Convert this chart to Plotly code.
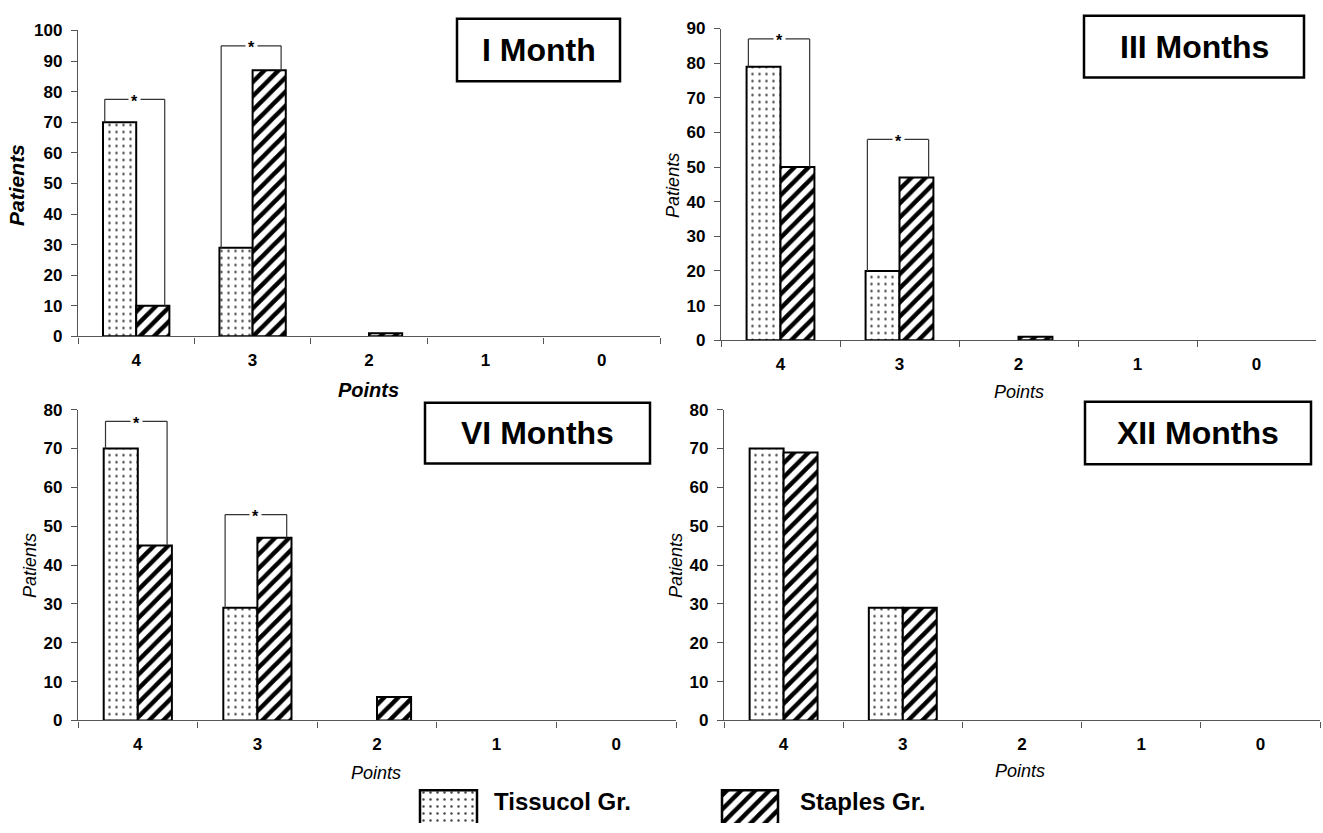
import plotly.graph_objects as go

# ---------------- data ----------------
points = ["4", "3", "2", "1", "0"]
panel_titles = ["I Month", "III Months", "VI Months", "XII Months"]

tissucol_1m = [70, 29, 0, 0, 0]
staples_1m = [10, 87, 1, 0, 0]
tissucol_3m = [79, 20, 0, 0, 0]
staples_3m = [50, 47, 1, 0, 0]
tissucol_6m = [70, 29, 0, 0, 0]
staples_6m = [45, 47, 6, 0, 0]
tissucol_12m = [70, 29, 0, 0, 0]
staples_12m = [69, 29, 0, 0, 0]

y_max = [100, 90, 80, 80]

# significance brackets: (panel index, category index, bracket height)
brackets = [(0, 0, 77.5), (0, 1, 95), (1, 0, 87), (1, 1, 58), (2, 0, 77), (2, 1, 53)]

legend_names = ["Tissucol Gr.", "Staples Gr."]

tissucol = [tissucol_1m, tissucol_3m, tissucol_6m, tissucol_12m]
staples = [staples_1m, staples_3m, staples_6m, staples_12m]

# ---------------- layout geometry (pixels) ----------------
W, H = 1323, 833
# (x_left, x_right, y_top, y_bottom) of each plot area
areas = [(78, 660, 22, 335), (721, 1316, 20, 339), (78, 676, 410, 728), (724, 1320, 410, 728)]
title_boxes = [(457, 620, 10, 74), (1084, 1304, 7, 70), (425, 650, 403, 465), (1085, 1311, 402, 466)]
pat_style = [
    dict(x=17, y=180, size=21, bold=True),
    dict(x=673, y=180, size=18, bold=False),
    dict(x=30, y=570, size=18, bold=False),
    dict(x=676, y=570, size=18, bold=False),
]
pts_style = [
    dict(x=368, y=390, size=20, bold=True),
    dict(x=1019, y=392, size=18, bold=False),
    dict(x=376, y=782, size=18, bold=False),
    dict(x=1020, y=780, size=18, bold=False),
]

FONT = "Liberation Sans, Arial, sans-serif"
DOTS = dict(shape=".", fgcolor="#444444", bgcolor="white", size=7, solidity=0.1, fgopacity=1)
HATCH = dict(shape="/", fgcolor="black", bgcolor="white", size=10, solidity=0.45, fgopacity=1)


def px(x):
    return x / W


def py(y):
    return 1 - y / H


def nz(vals):
    return [v if v else None for v in vals]


fig = go.Figure()
layout = dict(
    width=W, height=H,
    margin=dict(l=0, r=0, t=0, b=0),
    paper_bgcolor="white", plot_bgcolor="white",
    barmode="group", bargap=0.43, bargroupgap=0,
    showlegend=False,
    font=dict(family=FONT, color="black", size=16),
    shapes=[], annotations=[],
)

for i in range(4):
    sx = "" if i == 0 else str(i + 1)
    xa, ya = "x" + sx, "y" + sx
    x0, x1, y0, y1 = areas[i]
    fig.add_trace(go.Bar(
        x=points, y=nz(tissucol[i]), xaxis=xa, yaxis=ya, name=legend_names[0],
        marker=dict(color="white", line=dict(color="black", width=2), pattern=DOTS),
    ))
    fig.add_trace(go.Bar(
        x=points, y=nz(staples[i]), xaxis=xa, yaxis=ya, name=legend_names[1],
        marker=dict(color="white", line=dict(color="black", width=2), pattern=HATCH),
    ))
    layout["xaxis" + sx] = dict(
        domain=[px(x0), px(x1)], anchor=ya, type="category",
        categoryorder="array", categoryarray=points, range=[-0.5, 4.5],
        showline=True, linecolor="#555555", linewidth=1.3,
        ticks="outside", tickson="boundaries", ticklen=6, tickcolor="#555555",
        ticklabelstandoff=8,
        showgrid=False, zeroline=False, fixedrange=True,
        tickfont=dict(family=FONT, size=17, color="black", weight="bold"),
    )
    layout["yaxis" + sx] = dict(
        domain=[py(y1), py(y0)], anchor=xa, range=[0, y_max[i]], dtick=10,
        showline=True, linecolor="#555555", linewidth=1.3,
        ticks="outside", ticklen=6, tickcolor="#555555",
        ticklabelstandoff=5,
        showgrid=False, zeroline=False, fixedrange=True,
        tickfont=dict(family=FONT, size=17, color="black", weight="bold"),
    )
    bx0, bx1, by0, by1 = title_boxes[i]
    layout["shapes"].append(dict(type="rect", xref="paper", yref="paper",
                                 x0=px(bx0), x1=px(bx1), y0=py(by1), y1=py(by0),
                                 line=dict(color="black", width=2.5), fillcolor="white"))
    layout["annotations"].append(dict(text="<b>%s</b>" % panel_titles[i], xref="paper", yref="paper",
                                      x=px((bx0 + bx1) / 2), y=py((by0 + by1) / 2),
                                      xanchor="center", yanchor="middle", showarrow=False,
                                      font=dict(family=FONT, size=32, color="black")))
    ps = pat_style[i]
    t = "<i>Patients</i>"
    if ps["bold"]:
        t = "<b>" + t + "</b>"
    layout["annotations"].append(dict(text=t, xref="paper", yref="paper", x=px(ps["x"]), y=py(ps["y"]),
                                      xanchor="center", yanchor="middle", textangle=-90, showarrow=False,
                                      font=dict(family=FONT, size=ps["size"], color="black")))
    ts = pts_style[i]
    t = "<i>Points</i>"
    if ts["bold"]:
        t = "<b>" + t + "</b>"
    layout["annotations"].append(dict(text=t, xref="paper", yref="paper", x=px(ts["x"]), y=py(ts["y"]),
                                      xanchor="center", yanchor="middle", showarrow=False,
                                      font=dict(family=FONT, size=ts["size"], color="black")))

# significance brackets
for (p, c, top) in brackets:
    sx = "" if p == 0 else str(p + 1)
    xa, ya = "x" + sx, "y" + sx
    xl, xr = c - 0.27, c + 0.245
    lc = dict(color="#333333", width=1.2)
    layout["shapes"].append(dict(type="line", xref=xa, yref=ya, x0=xl, x1=xl, y0=tissucol[p][c], y1=top, line=lc))
    layout["shapes"].append(dict(type="line", xref=xa, yref=ya, x0=xl, x1=xr, y0=top, y1=top, line=lc))
    layout["shapes"].append(dict(type="line", xref=xa, yref=ya, x0=xr, x1=xr, y0=top, y1=staples[p][c], line=lc))
    layout["annotations"].append(dict(text="<b>*</b>", xref=xa, yref=ya, x=(xl + xr) / 2, y=top,
                                      xanchor="center", yanchor="middle", showarrow=False,
                                      bgcolor="white", borderpad=2, yshift=-2,
                                      font=dict(family=FONT, size=16, color="black")))

# custom legend (large patterned swatches on a hidden pixel-scale axis)
leg_x = [448.5, 750]
leg_w = [57, 56]
fig.add_trace(go.Bar(x=[leg_x[0]], y=[1.2], base=[-0.4], width=[leg_w[0]], xaxis="x5", yaxis="y5",
                     marker=dict(color="white", line=dict(color="black", width=2.5), pattern=DOTS)))
fig.add_trace(go.Bar(x=[leg_x[1]], y=[1.2], base=[-0.4], width=[leg_w[1]], xaxis="x5", yaxis="y5",
                     marker=dict(color="white", line=dict(color="black", width=2.5), pattern=HATCH)))
layout["xaxis5"] = dict(domain=[0, 1], anchor="y5", range=[0, W], visible=False, fixedrange=True)
layout["yaxis5"] = dict(domain=[0, py(791)], anchor="x5", range=[0, 1], visible=False, fixedrange=True)
for name, x in zip(legend_names, [492, 798]):
    layout["annotations"].append(dict(text="<b>%s</b>" % name, xref="paper", yref="paper",
                                      x=px(x), y=py(811), xanchor="left", yanchor="middle", showarrow=False,
                                      font=dict(family=FONT, size=24, color="black")))

fig.update_layout(**layout)
fig.write_html("out.html", config={"displayModeBar": False},
               post_script="document.body.style.margin='0';document.body.style.overflow='hidden';")
